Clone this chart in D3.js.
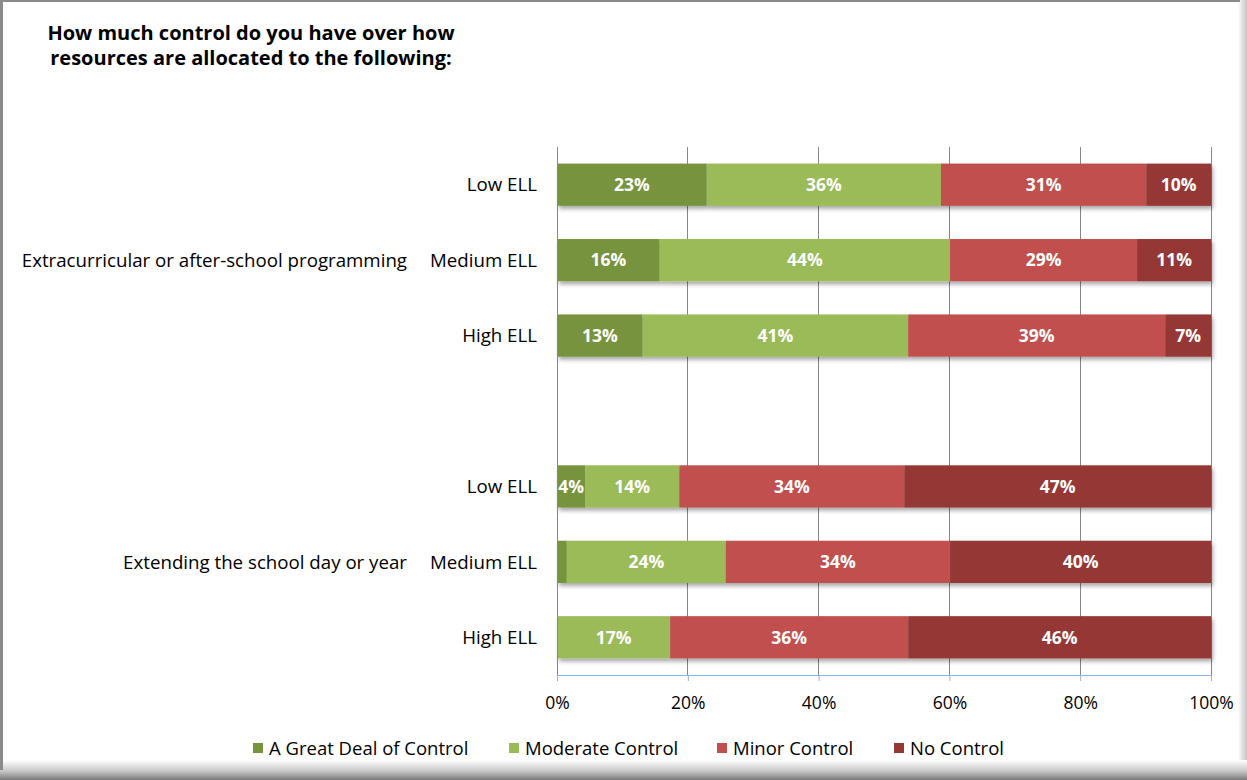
<!DOCTYPE html>
<html>
<head>
<meta charset="utf-8">
<script src="https://cdn.jsdelivr.net/npm/d3@7"></script>
<style>
  html, body { margin: 0; padding: 0; background: #fff; }
  svg { display: block; }
  text { font-family: "Open Sans", "Noto Sans", sans-serif; }
</style>
</head>
<body>
<svg id="chart" width="1247" height="780"></svg>
<script>
// ---------- data ----------
const title = ["How much control do you have over how", "resources are allocated to the following:"];
const rows = ["Low ELL", "Medium ELL", "High ELL", "", "Low ELL ", "Medium ELL ", "High ELL "];
const groupLabels = ["Extracurricular or after-school programming", "Extending the school day or year"];
const groupCenters = ["Medium ELL", "Medium ELL "];
const seriesNames = ["A Great Deal of Control", "Moderate Control", "Minor Control", "No Control"];
const seriesColors = ["#77933c", "#9bbb59", "#c0504d", "#953735"];
const greatDeal = [22.9, 15.7, 13.1, null, 4.3, 1.5, 0];
const moderate  = [35.8, 44.4, 40.6, null, 14.4, 24.3, 17.3];
const minor     = [31.4, 28.6, 39.3, null, 34.4, 34.3, 36.4];
const noControl = [9.9, 11.3, 7.0, null, 46.9, 39.9, 46.3];
const xTicks = [0, 20, 40, 60, 80, 100];

// ---------- setup ----------
const W = 1247, H = 780;
const svg = d3.select("#chart");
const defs = svg.append("defs");

// frame shadows
const gB = defs.append("linearGradient").attr("id", "gb").attr("x1", 0).attr("y1", 0).attr("x2", 0).attr("y2", 1);
gB.append("stop").attr("offset", "0%").attr("stop-color", "#ffffff");
gB.append("stop").attr("offset", "55%").attr("stop-color", "#c8c8c8");
gB.append("stop").attr("offset", "100%").attr("stop-color", "#7a7a7a");
const gR = defs.append("linearGradient").attr("id", "gr").attr("x1", 0).attr("y1", 0).attr("x2", 1).attr("y2", 0);
gR.append("stop").attr("offset", "0%").attr("stop-color", "#ffffff");
gR.append("stop").attr("offset", "100%").attr("stop-color", "#c4c4c4");

const shadow = defs.append("filter").attr("id", "shadow")
  .attr("x", "-5%").attr("y", "-20%").attr("width", "110%").attr("height", "160%");
shadow.append("feGaussianBlur").attr("in", "SourceAlpha").attr("stdDeviation", 2).attr("result", "blur");
shadow.append("feOffset").attr("in", "blur").attr("dx", 2).attr("dy", 3).attr("result", "off");
const ct = shadow.append("feComponentTransfer").attr("in", "off").attr("result", "sh");
ct.append("feFuncA").attr("type", "linear").attr("slope", 0.35);
const merge = shadow.append("feMerge");
merge.append("feMergeNode").attr("in", "sh");
merge.append("feMergeNode").attr("in", "SourceGraphic");

svg.append("rect").attr("width", W).attr("height", H).attr("fill", "#fff");
svg.append("rect").attr("x", 1238).attr("y", 0).attr("width", 9).attr("height", H).attr("fill", "url(#gr)");
svg.append("rect").attr("x", 0).attr("y", 760).attr("width", W).attr("height", 20).attr("fill", "url(#gb)");
svg.append("rect").attr("x", 0).attr("y", 0).attr("width", 3).attr("height", 770).attr("fill", "#8a8a8a");
svg.append("rect").attr("x", 0).attr("y", 0).attr("width", 1240).attr("height", 2).attr("fill", "#8a8a8a");

// title
svg.append("text").attr("x", 251).attr("y", 40).attr("text-anchor", "middle")
  .attr("font-size", 20).attr("font-weight", "bold").attr("fill", "#000")
  .selectAll("tspan").data(title).join("tspan")
  .attr("x", 251).attr("dy", (d, i) => i ? 25 : 0).text(d => d);

// scales
const plot = { left: 557, right: 1211, top: 147, bottom: 675 };
const x = d3.scaleLinear().domain([0, 100]).range([plot.left, plot.right]);
const y = d3.scaleBand().domain(rows).range([plot.top, plot.bottom]).paddingInner(0.44).paddingOuter(0.22);

// gridlines
svg.append("g").selectAll("line").data(xTicks).join("line")
  .attr("x1", d => x(d)).attr("x2", d => x(d))
  .attr("y1", plot.top).attr("y2", plot.bottom)
  .attr("stroke", "#868686").attr("stroke-width", 1)
  .attr("shape-rendering", "crispEdges");

// bars
const seriesData = [greatDeal, moderate, minor, noControl];
const stacked = rows.map((r, i) => {
  let acc = 0;
  return seriesData.map((s, k) => {
    const v = s[i];
    const o = { row: r, k, v, x0: acc, x1: acc + (v || 0) };
    acc += (v || 0);
    return o;
  });
}).filter(d => d[0].v !== null);

const barG = svg.append("g");
stacked.forEach(rowSegs => {
  const r = rowSegs[0].row;
  const g = barG.append("g").attr("filter", "url(#shadow)");
  g.selectAll("rect").data(rowSegs.filter(d => d.v > 0)).join("rect")
    .attr("x", d => x(d.x0)).attr("width", d => x(d.x1) - x(d.x0))
    .attr("y", y(r)).attr("height", y.bandwidth())
    .attr("fill", d => seriesColors[d.k]);
});
stacked.forEach(rowSegs => {
  const r = rowSegs[0].row;
  barG.append("g").selectAll("text").data(rowSegs.filter(d => d.v >= 3)).join("text")
    .attr("x", d => (x(d.x0) + x(d.x1)) / 2)
    .attr("y", y(r) + y.bandwidth() / 2)
    .attr("dy", "0.36em").attr("text-anchor", "middle")
    .attr("font-size", 17.5).attr("font-weight", "bold").attr("fill", "#fff")
    .text(d => Math.round(d.v) + "%");
});

// bottom axis
const xAxis = d3.axisBottom(x).tickValues(xTicks).tickFormat(d => d + "%").tickSize(6).tickPadding(16);
const axG = svg.append("g").attr("transform", `translate(0,${plot.bottom})`).call(xAxis);
axG.select(".domain").attr("stroke", "#8db3e2");
axG.selectAll(".tick line").attr("stroke", "#8db3e2");
axG.selectAll(".tick text").attr("font-size", 17.5).attr("fill", "#000")
  .attr("font-family", "'Open Sans', sans-serif");

// left axis line
svg.append("line").attr("x1", plot.left).attr("x2", plot.left)
  .attr("y1", plot.top).attr("y2", plot.bottom)
  .attr("stroke", "#868686").attr("shape-rendering", "crispEdges");

// row labels
svg.append("g").selectAll("text").data(rows.filter(r => r.trim() !== "")).join("text")
  .attr("x", 537).attr("y", d => y(d) + y.bandwidth() / 2)
  .attr("dy", "0.36em").attr("text-anchor", "end")
  .attr("font-size", 18.7).attr("fill", "#000")
  .text(d => d.trim());

// group labels
svg.append("g").selectAll("text").data(groupLabels).join("text")
  .attr("x", 407).attr("y", (d, i) => y(groupCenters[i]) + y.bandwidth() / 2)
  .attr("dy", "0.36em").attr("text-anchor", "end")
  .attr("font-size", 18.7).attr("fill", "#000")
  .text(d => d);

// legend
const legendX = [253, 509, 717, 894];
const lg = svg.append("g").selectAll("g").data(seriesNames).join("g")
  .attr("transform", (d, i) => `translate(${legendX[i]},748)`);
lg.append("rect").attr("x", 0).attr("y", -5).attr("width", 10).attr("height", 10)
  .attr("fill", (d, i) => seriesColors[i]);
lg.append("text").attr("x", 16).attr("y", 0).attr("dy", "0.36em")
  .attr("font-size", 18.5).attr("fill", "#000").text(d => d);
</script>
</body>
</html>
